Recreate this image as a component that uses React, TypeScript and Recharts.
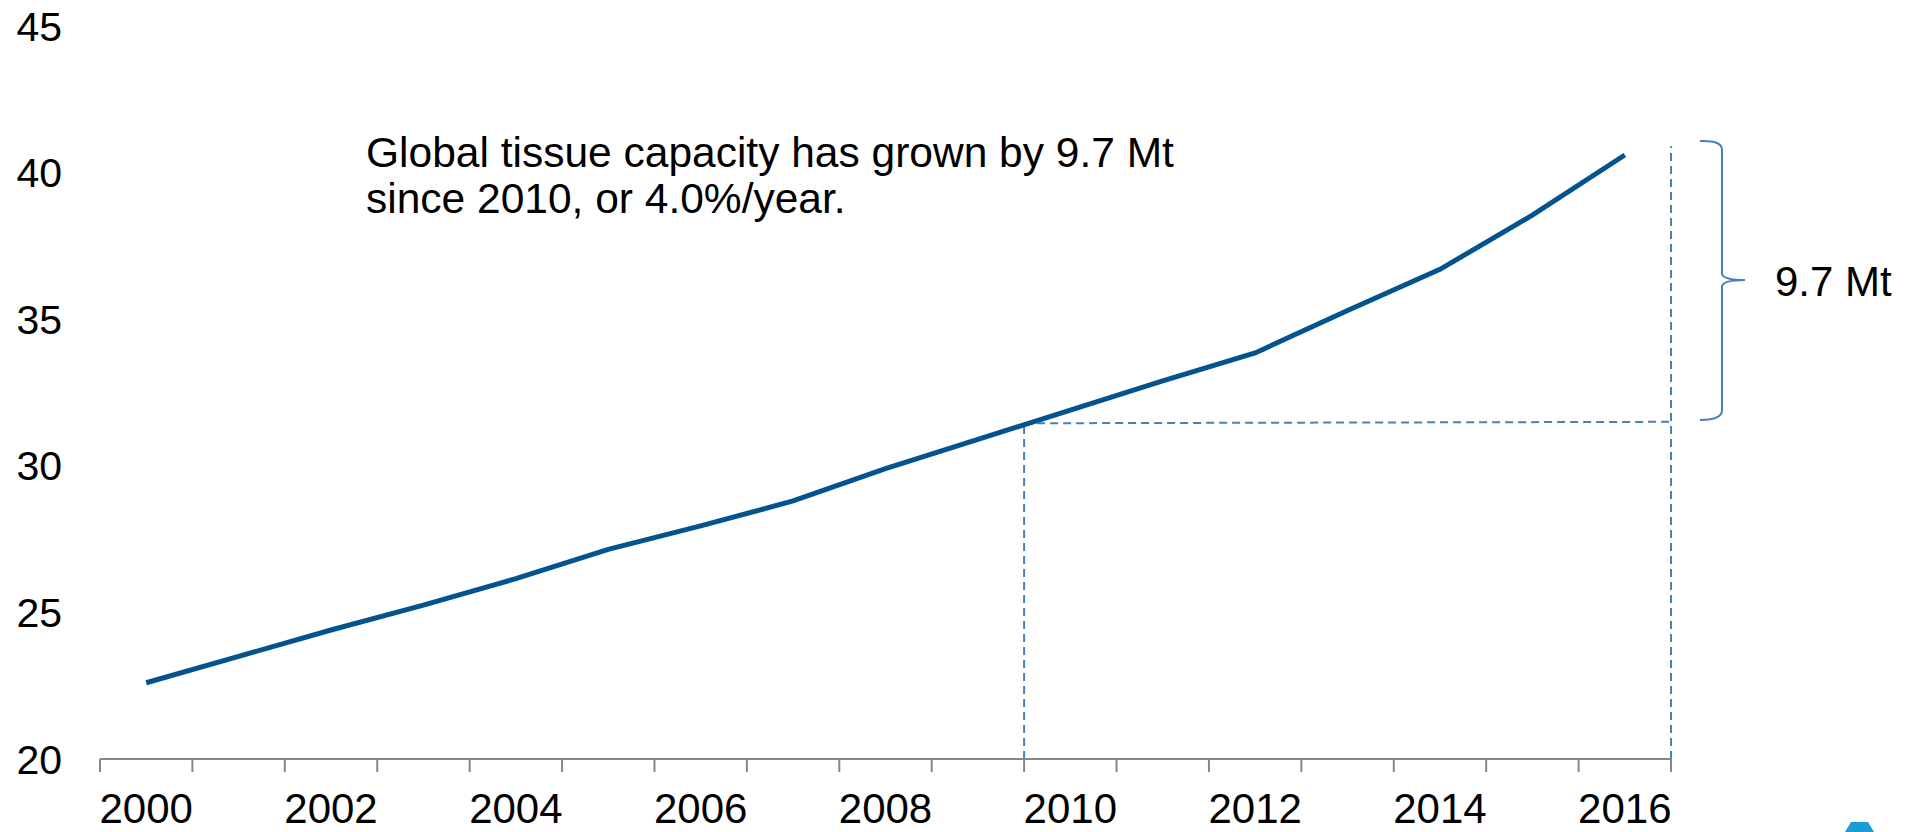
import React from "react";
import { LineChart, Line, XAxis, YAxis, ReferenceLine } from "recharts";

const years = [2000, 2001, 2002, 2003, 2004, 2005, 2006, 2007, 2008, 2009, 2010, 2011, 2012, 2013, 2014, 2015, 2016];
const capacity = [22.6, 23.5, 24.4, 25.25, 26.15, 27.15, 27.95, 28.8, 29.9, 30.9, 31.9, 32.9, 33.85, 35.3, 36.7, 38.55, 40.6];
const yearLabels = [2000, 2002, 2004, 2006, 2008, 2010, 2012, 2014, 2016];
const yTicks = [20, 25, 30, 35, 40, 45];
const noteLines = ["Global tissue capacity has grown by 9.7 Mt", "since 2010, or 4.0%/year."];
const growthLabel = "9.7 Mt";

const data = years.map((y, i) => ({ year: y, value: capacity[i] }));
const boundaryTicks = years.map((y) => y - 0.5).concat([years[years.length - 1] + 0.5]);
const xDomain: [number, number] = [years[0] - 0.5, years[years.length - 1] + 0.5];

const FONT = "'Liberation Sans', Arial, Helvetica, sans-serif";
const LINE_COLOR = "#02538E";
const DASH_COLOR = "#4A7EBF";
const AXIS_COLOR = "#878787";

const EmptyTick = () => <g />;

export default function App() {
  return (
    <div style={{ position: "fixed", left: 0, top: 0, width: 1914, height: 832, background: "#fff" }}>
      <LineChart
        width={1914}
        height={832}
        data={data}
        margin={{ top: 26, right: 243, bottom: 0, left: 0 }}
      >
        <XAxis
          xAxisId={0}
          type="number"
          dataKey="year"
          domain={xDomain}
          ticks={boundaryTicks}
          interval={0}
          height={1}
          tick={<EmptyTick />}
          tickSize={13}
          axisLine={{ stroke: AXIS_COLOR, strokeWidth: 2 }}
          tickLine={{ stroke: AXIS_COLOR, strokeWidth: 2 }}
        />
        <XAxis
          xAxisId="lab"
          type="number"
          dataKey="year"
          domain={xDomain}
          ticks={yearLabels}
          interval={0}
          height={72}
          axisLine={false}
          tickLine={false}
          tickSize={0}
          tickMargin={33}
          tick={{ fill: "#000", fontSize: 42, fontFamily: FONT }}
        />
        <YAxis
          type="number"
          domain={[20, 45]}
          ticks={yTicks}
          interval={0}
          width={100}
          axisLine={false}
          tickLine={false}
          tickSize={0}
          tickMargin={38}
          tick={{ fill: "#000", fontSize: 41, fontFamily: FONT }}
        />
        <ReferenceLine
          xAxisId={0}
          segment={[{ x: 2009.5, y: 20 }, { x: 2009.5, y: 31.45 }]}
          stroke={DASH_COLOR}
          strokeWidth={2}
          strokeDasharray="8 5"
        />
        <ReferenceLine
          xAxisId={0}
          segment={[{ x: 2009.5, y: 31.45 }, { x: 2016.5, y: 31.5 }]}
          stroke={DASH_COLOR}
          strokeWidth={2}
          strokeDasharray="8 5"
        />
        <ReferenceLine
          xAxisId={0}
          segment={[{ x: 2016.5, y: 20 }, { x: 2016.5, y: 40.9 }]}
          stroke={DASH_COLOR}
          strokeWidth={2}
          strokeDasharray="8 5"
        />
        <Line
          xAxisId={0}
          type="linear"
          dataKey="value"
          stroke={LINE_COLOR}
          strokeWidth={5}
          dot={false}
          activeDot={false}
          isAnimationActive={false}
        />
      </LineChart>
      <svg
        width={1914}
        height={832}
        style={{ position: "absolute", left: 0, top: 0, pointerEvents: "none" }}
      >
        <text x={366} y={167} fontSize={42.5} fontFamily={FONT} fill="#000">
          {noteLines[0]}
        </text>
        <text x={366} y={213} fontSize={42.5} fontFamily={FONT} fill="#000">
          {noteLines[1]}
        </text>
        <path
          d="M 1700 141 Q 1722 140 1722 150 L 1722 273 Q 1722 280 1745 280 Q 1722 280 1722 287 L 1722 410 Q 1722 420 1700 420"
          fill="none"
          stroke={DASH_COLOR}
          strokeWidth={2}
        />
        <text x={1775} y={296} fontSize={42} fontFamily={FONT} fill="#000">
          {growthLabel}
        </text>
        <path d="M 1845 832 L 1851 822 L 1868 822 L 1874 832 Z" fill="#1E9BD7" />
      </svg>
    </div>
  );
}
